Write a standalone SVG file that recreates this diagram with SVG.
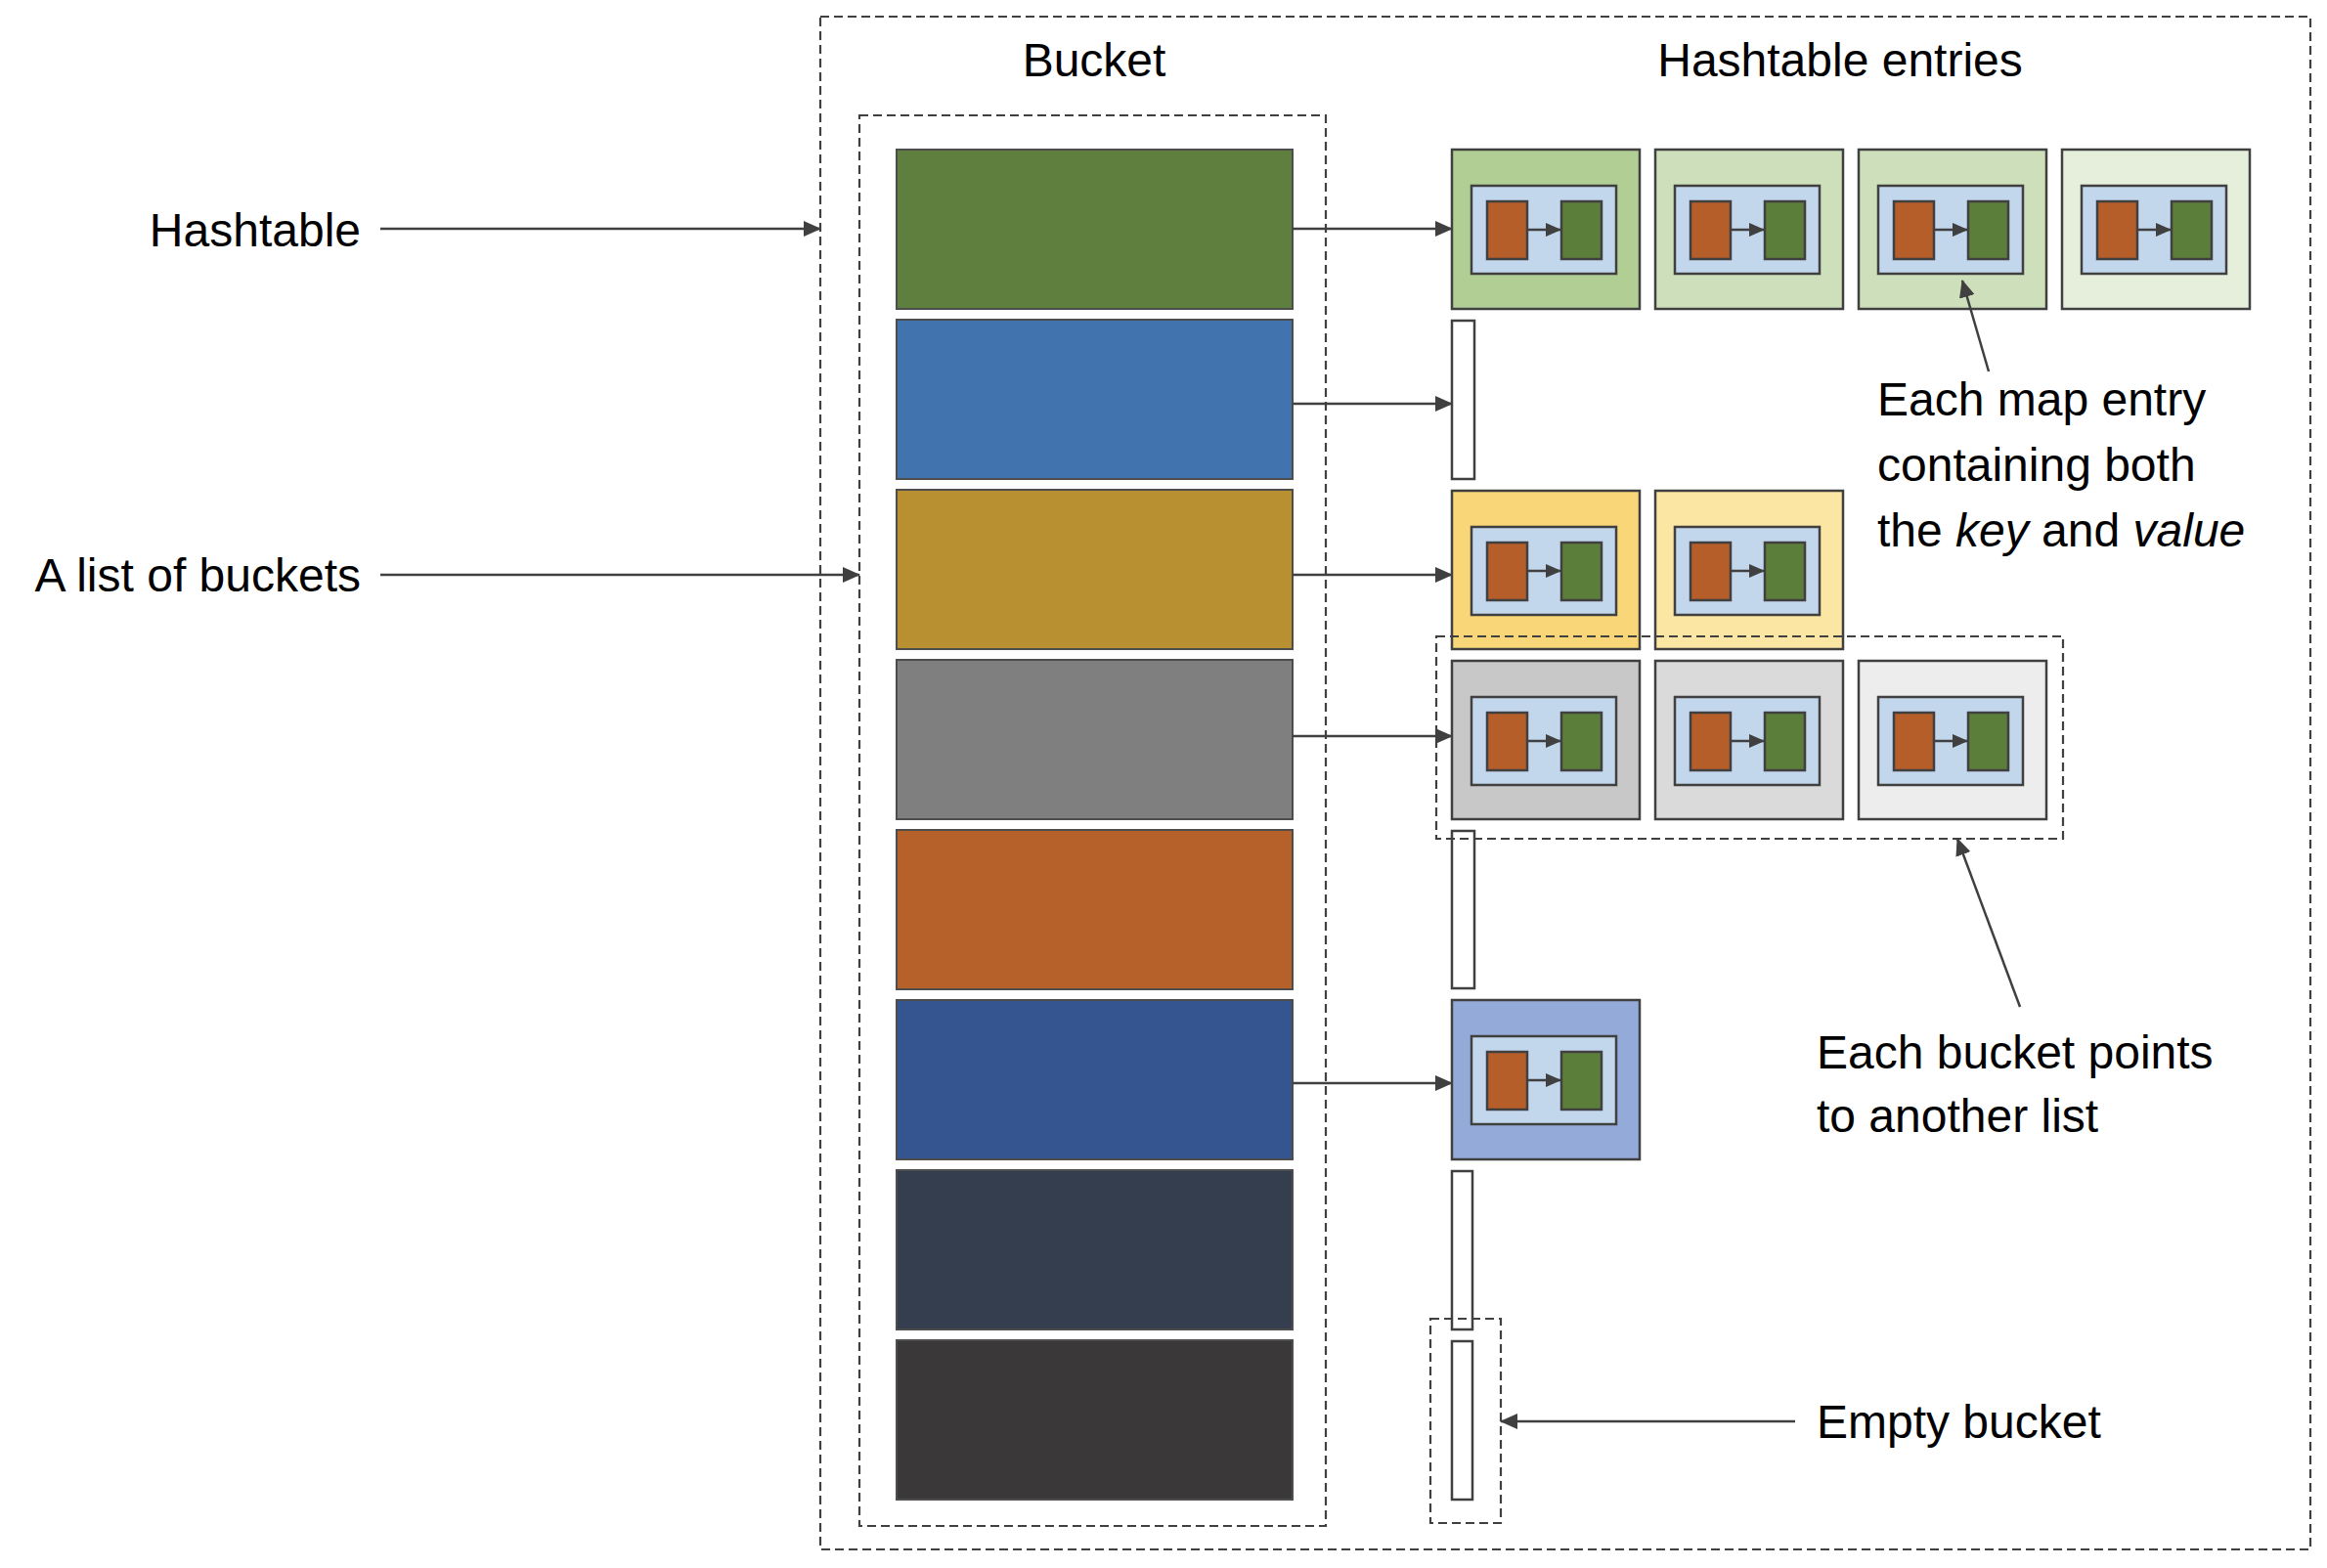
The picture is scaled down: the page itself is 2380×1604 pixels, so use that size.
<svg xmlns="http://www.w3.org/2000/svg" xmlns:xlink="http://www.w3.org/1999/xlink" width="2380" height="1604" viewBox="0 0 2380 1604">
<style>
text{font-family:"Liberation Sans",Arial,sans-serif;font-size:48px;fill:#000}
.dash{fill:none;stroke:#404040;stroke-width:2.2;stroke-dasharray:9 5}
.bk{stroke:#4d4d4d;stroke-width:2}
.ent{stroke:#404040;stroke-width:2.5}
.ph{fill:#fff;stroke:#404040;stroke-width:2.5}
.con{fill:none;stroke:#404040;stroke-width:2.5}
</style>
<defs>
<marker id="ah" markerUnits="userSpaceOnUse" markerWidth="18" markerHeight="16" refX="17" refY="8" orient="auto">
<path d="M0,0 L18,8 L0,16 Z" fill="#404040"/>
</marker>
<marker id="ahs" markerUnits="userSpaceOnUse" markerWidth="16" markerHeight="14" refX="15" refY="7" orient="auto">
<path d="M0,0 L16,7 L0,14 Z" fill="#404040"/>
</marker>
<g id="kv">
<rect x="20" y="37" width="148" height="90" fill="#c2d7ec" class="ent"/>
<rect x="36" y="53" width="41" height="59" fill="#b65e29" class="ent"/>
<rect x="112" y="53" width="41" height="59" fill="#5c7e3b" class="ent"/>
<line x1="77" y1="82" x2="111" y2="82" class="con" stroke-width="2.2" marker-end="url(#ahs)"/>
</g>
</defs>
<rect width="2380" height="1604" fill="#fff"/>

<g id="hashtable-frame">
<rect x="839" y="17" width="1524" height="1568" class="dash"/>
</g>
<g id="bucket-list-frame">
<rect x="879" y="118" width="477" height="1443" class="dash"/>
</g>
<g id="headers">
<text x="1119" y="78" text-anchor="middle">Bucket</text>
<text x="1882" y="78" text-anchor="middle">Hashtable entries</text>
</g>

<g id="buckets">
<g id="bucket-0"><rect x="917" y="153" width="405" height="163" fill="#5f7f3e" class="bk"/></g>
<g id="bucket-1"><rect x="917" y="327" width="405" height="163" fill="#4174ae" class="bk"/></g>
<g id="bucket-2"><rect x="917" y="501" width="405" height="163" fill="#b88f31" class="bk"/></g>
<g id="bucket-3"><rect x="917" y="675" width="405" height="163" fill="#7f7f7f" class="bk"/></g>
<g id="bucket-4"><rect x="917" y="849" width="405" height="163" fill="#b6602a" class="bk"/></g>
<g id="bucket-5"><rect x="917" y="1023" width="405" height="163" fill="#355590" class="bk"/></g>
<g id="bucket-6"><rect x="917" y="1197" width="405" height="163" fill="#343e4f" class="bk"/></g>
<g id="bucket-7"><rect x="917" y="1371" width="405" height="163" fill="#3a3838" class="bk"/></g>
</g>

<g id="entries">
<g id="entry-0-0" transform="translate(1485,153)"><rect width="192" height="163" fill="#b1cf95" class="ent"/><use xlink:href="#kv"/></g>
<g id="entry-0-1" transform="translate(1693,153)"><rect width="192" height="163" fill="#cde0bb" class="ent"/><use xlink:href="#kv"/></g>
<g id="entry-0-2" transform="translate(1901,153)"><rect width="192" height="163" fill="#cde0bb" class="ent"/><use xlink:href="#kv"/></g>
<g id="entry-0-3" transform="translate(2109,153)"><rect width="192" height="163" fill="#e5efdc" class="ent"/><use xlink:href="#kv"/></g>
<g id="entry-2-0" transform="translate(1485,502)"><rect width="192" height="162" fill="#f9d778" class="ent"/><use xlink:href="#kv"/></g>
<g id="entry-2-1" transform="translate(1693,502)"><rect width="192" height="162" fill="#fbe6a3" class="ent"/><use xlink:href="#kv"/></g>
<g id="entry-3-0" transform="translate(1485,676)"><rect width="192" height="162" fill="#c8c8c8" class="ent"/><use xlink:href="#kv"/></g>
<g id="entry-3-1" transform="translate(1693,676)"><rect width="192" height="162" fill="#dadada" class="ent"/><use xlink:href="#kv"/></g>
<g id="entry-3-2" transform="translate(1901,676)"><rect width="192" height="162" fill="#ededed" class="ent"/><use xlink:href="#kv"/></g>
<g id="entry-5-0" transform="translate(1485,1023)"><rect width="192" height="163" fill="#94abda" class="ent"/><use xlink:href="#kv"/></g>
</g>

<g id="empty-slots">
<rect id="slot-1" x="1485" y="328" width="23" height="162" class="ph"/>
<rect id="slot-4" x="1485" y="850" width="23" height="161" class="ph"/>
<rect id="slot-6" x="1485" y="1198" width="21" height="162" class="ph"/>
<rect id="slot-7" x="1485" y="1372" width="21" height="162" class="ph"/>
</g>

<g id="groupings">
<rect x="1469" y="651" width="641" height="207" class="dash"/>
<rect x="1463" y="1349" width="72" height="209" class="dash"/>
</g>

<g id="connectors">
<line x1="1322" y1="234" x2="1485" y2="234" class="con" marker-end="url(#ah)"/>
<line x1="1322" y1="413" x2="1485" y2="413" class="con" marker-end="url(#ah)"/>
<line x1="1322" y1="588" x2="1485" y2="588" class="con" marker-end="url(#ah)"/>
<line x1="1322" y1="753" x2="1485" y2="753" class="con" marker-end="url(#ah)"/>
<line x1="1322" y1="1108" x2="1485" y2="1108" class="con" marker-end="url(#ah)"/>
<line x1="389" y1="234" x2="839" y2="234" class="con" marker-end="url(#ah)"/>
<line x1="389" y1="588" x2="879" y2="588" class="con" marker-end="url(#ah)"/>
<line x1="2034" y1="380" x2="2007" y2="287" class="con" marker-end="url(#ah)"/>
<line x1="2066" y1="1030" x2="2002" y2="858" class="con" marker-end="url(#ah)"/>
<line x1="1836" y1="1454" x2="1535" y2="1454" class="con" marker-end="url(#ah)"/>
</g>

<g id="labels">
<text x="369" y="252" text-anchor="end">Hashtable</text>
<text x="369" y="605" text-anchor="end">A list of buckets</text>
<text x="1920" y="425">Each map entry</text>
<text x="1920" y="492">containing both</text>
<text x="1920" y="559">the <tspan font-style="italic">key</tspan> and <tspan font-style="italic">value</tspan></text>
<text x="1858" y="1093">Each bucket points</text>
<text x="1858" y="1158">to another list</text>
<text x="1858" y="1471">Empty bucket</text>
</g>
</svg>
